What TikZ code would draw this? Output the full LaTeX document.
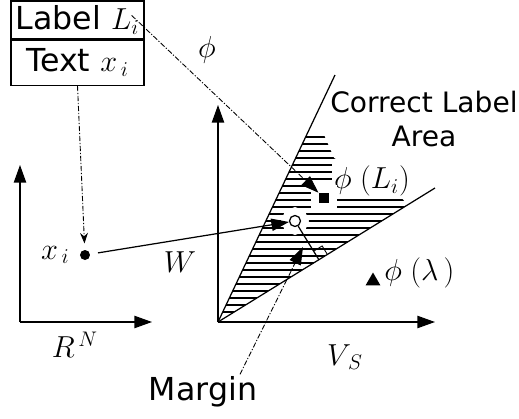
\documentclass[tikz,border=0pt]{standalone}
\usepackage{amsmath}
\usepackage{fontspec}
\newfontfamily\labelfont{DejaVu Sans}
\usepackage{tikz}
\usetikzlibrary{arrows.meta,positioning,shapes.geometric,calc}

\begin{document}
\begin{tikzpicture}[line width=0.7pt,
    sanslabel/.style={font=\labelfont\fontsize{16}{19}\selectfont, align=center, inner sep=1pt},
    boxlabel/.style={draw, font=\labelfont\fontsize{18}{21}\selectfont, minimum width=2.66cm, inner sep=0pt},
    mathlabel/.style={font=\fontsize{17}{20}\selectfont, inner sep=1pt},
    axis/.style={-{Triangle[length=10pt, width=7pt]}},
    bigtip/.style={-{Triangle[length=10pt, width=7pt]}},
    mapline/.style={densely dashdotted, line width=0.5pt},
    hatchline/.style={line width=0.6pt},
    halo/.style={preaction={draw=white, line width=9pt}},
    dotmark/.style={circle, fill=black, minimum size=0.2cm, inner sep=0pt},
    sqmark/.style={rectangle, fill=black, minimum size=0.2cm, inner sep=0pt, halo},
    circmark/.style={circle, draw, fill=white, minimum size=0.22cm, inner sep=0pt, halo},
    trimark/.style={regular polygon, regular polygon sides=3, fill=black, minimum size=0.34cm, inner sep=0pt}
]
\useasboundingbox (0,0) rectangle (10.38,8.36);

%% Input record (top left)
\node[boxlabel, minimum height=0.76cm] (lbl) at (1.55,7.96) {Label $L_i$};
\node[boxlabel, minimum height=0.9cm, below=0pt of lbl] (txt) {Text $x_{\,i}$};

%% Input space R^N
\coordinate (o1) at (0.40,1.92);
\coordinate (y1) at (0.40,5.06);
\coordinate (x1) at (3.04,1.92);
\draw[axis] (o1) -- (y1);
\draw[axis] (o1) -- (x1);
\node[mathlabel] (rn) at (1.50,1.46) {$R^{\,N}$};
\node[dotmark] (xdot) at (1.70,3.26) {};
\node[mathlabel, left=0.15cm of xdot] (xlbl) {$x_{\,i}$};

%% Output space V_S
\coordinate (o2) at (4.36,1.92);
\coordinate (y2) at (4.36,6.26);
\coordinate (x2) at (8.70,1.92);
\coordinate (cup) at (6.70,6.86);
\coordinate (clow) at (8.70,4.60);

% hatched correct label area
\begin{scope}
  \clip (o2) -- (6.13,5.66) -- (6.48,5.66) -- (6.68,5.20) -- (8.00,4.44) -- (8.15,4.26) -- cycle;
  \foreach \k in {0,...,25}
    \draw[hatchline] (4.3,{5.62-0.14*\k}) -- (8.3,{5.62-0.14*\k});
\end{scope}

\node[mathlabel, fill=white] (philbl) at (7.44,4.74) {$\phi\;(L_i)$};
\node[sqmark] (sq) at (6.48,4.40) {};
\node[circmark] (circ) at (5.90,3.94) {};
\node[trimark] (tri) at (7.46,2.74) {};
\node[mathlabel, anchor=west] (philam) at (7.64,2.90) {$\phi\;(\lambda\,)$};

\draw[axis] (o2) -- (y2);
\draw[axis] (o2) -- (x2);
\draw (o2) -- (cup);
\draw (o2) -- (clow);
\node[mathlabel] (vs) at (6.90,1.22) {$V_{\,S}$};
\node[sanslabel] (area) at (8.48,5.98) {Correct Label\\Area};

%% Margin to the boundary
\coordinate (foot) at ($(o2)!(circ)!(clow)$);
\coordinate (ra1) at ($(foot)!0.2cm!(clow)$);
\coordinate (ra2) at ($(foot)!0.2cm!(circ)$);
\draw (circ) -- (foot);
\draw[line width=0.5pt] (ra1) -- ($(ra1)+(ra2)-(foot)$) -- (ra2);

%% Mappings
\draw[mapline, -{Stealth[length=6pt, width=4.5pt]}, shorten >=0.12cm] (txt.south) -- (xdot);
\draw[bigtip, shorten <=0.15cm] (xdot) -- (circ);
\node[mathlabel] (wlbl) at (3.60,3.12) {$W$};
\draw[mapline, bigtip] ([xshift=-0.26cm, yshift=-0.3cm]lbl.north east) -- (sq);
\node[mathlabel] (phi) at (4.14,7.36) {$\phi$};

\node[sanslabel, font=\labelfont\fontsize{18}{21}\selectfont] (margin) at (4.06,0.52) {Margin};
\coordinate (mtip) at (6.06,3.42);
\draw[mapline, bigtip] ([xshift=0.74cm]margin.north) -- (mtip);

\end{tikzpicture}
\end{document}
